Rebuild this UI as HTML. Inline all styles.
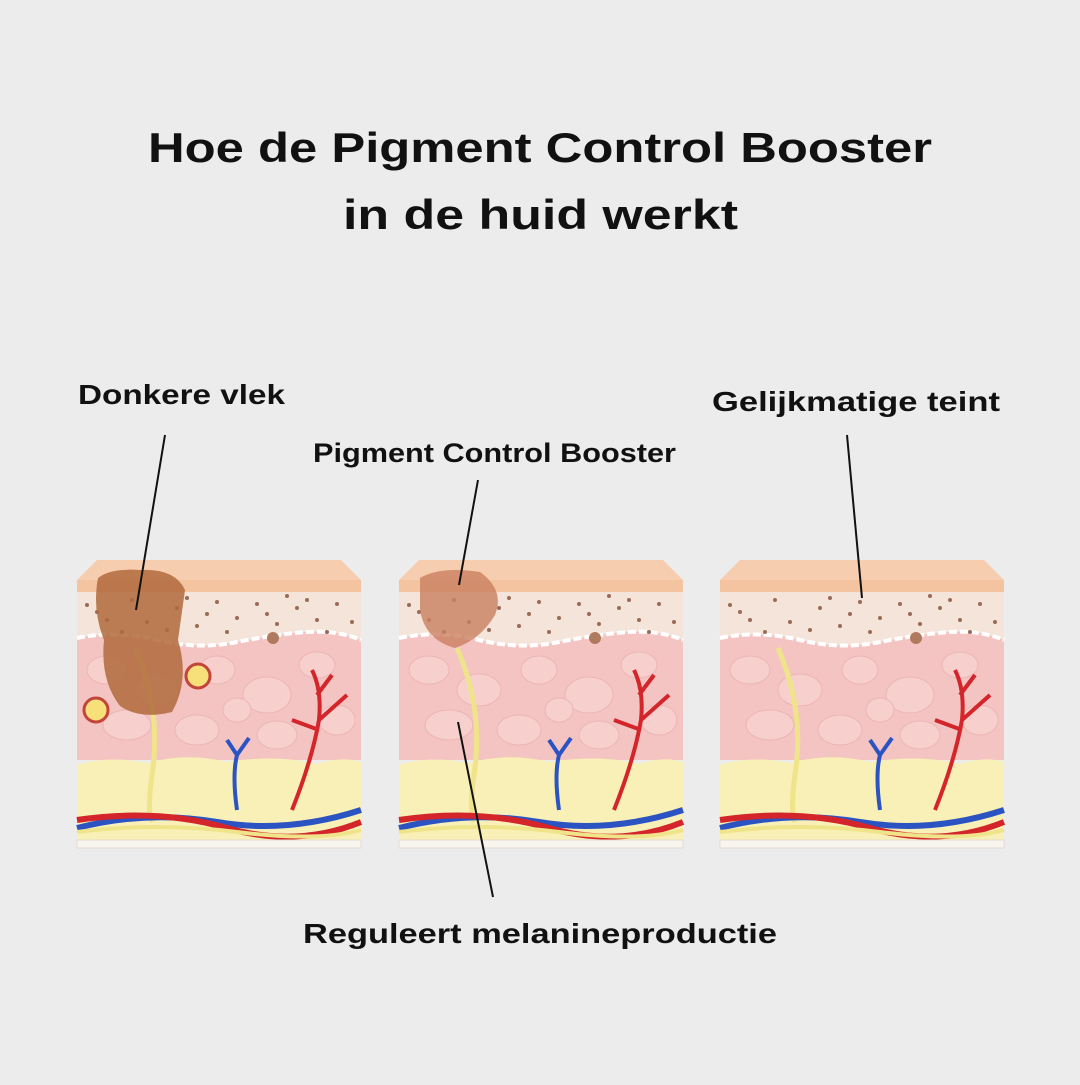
<!DOCTYPE html>
<html><head><meta charset="utf-8"><style>
html,body{margin:0;padding:0;background:#ececec;}
body{width:1080px;height:1080px;overflow:hidden;}
svg text{font-family:"Liberation Sans",sans-serif;font-weight:bold;fill:#111;}
</style></head><body>
<svg width="1080" height="1080" viewBox="0 0 1080 1080" xmlns="http://www.w3.org/2000/svg">
<rect width="1080" height="1080" fill="#ececec"/>
<defs>
<g id="blk">
  <polygon points="20,0 264,0 284,20 0,20" fill="#f7cdb0"/>
  <rect x="0" y="20" width="284" height="12" fill="#f4c3a0"/>
  <rect x="0" y="32" width="284" height="60" fill="#f5e4da"/>
  <path d="M0,78 Q40,70 80,80 T160,82 T230,72 T284,80 L284,200 L0,200 Z" fill="#f4c4c2"/>
  <path d="M0,78 Q40,70 80,80 T160,82 T230,72 T284,80" fill="none" stroke="#fff" stroke-width="4" stroke-dasharray="8 3"/>
  <g fill="#f7d0ce" stroke="#ebb5b4" stroke-width="1">
    <ellipse cx="30" cy="110" rx="20" ry="14"/><ellipse cx="80" cy="130" rx="22" ry="16"/>
    <ellipse cx="140" cy="110" rx="18" ry="14"/><ellipse cx="190" cy="135" rx="24" ry="18"/>
    <ellipse cx="240" cy="105" rx="18" ry="13"/><ellipse cx="50" cy="165" rx="24" ry="15"/>
    <ellipse cx="120" cy="170" rx="22" ry="15"/><ellipse cx="200" cy="175" rx="20" ry="14"/>
    <ellipse cx="260" cy="160" rx="18" ry="15"/><ellipse cx="160" cy="150" rx="14" ry="12"/>
  </g>
  <path d="M0,205 Q30,195 70,203 Q110,192 150,202 Q200,194 240,204 Q265,196 284,202 L284,280 L0,280 Z" fill="#f8f0b6"/>
  <g fill="#9a6b55">
    <circle cx="10" cy="45" r="2"/><circle cx="30" cy="60" r="2"/><circle cx="55" cy="40" r="2"/><circle cx="70" cy="62" r="2"/>
    <circle cx="100" cy="48" r="2"/><circle cx="120" cy="66" r="2"/><circle cx="140" cy="42" r="2"/><circle cx="160" cy="58" r="2"/>
    <circle cx="180" cy="44" r="2"/><circle cx="200" cy="64" r="2"/><circle cx="220" cy="48" r="2"/><circle cx="240" cy="60" r="2"/>
    <circle cx="260" cy="44" r="2"/><circle cx="275" cy="62" r="2"/><circle cx="90" cy="70" r="2"/><circle cx="150" cy="72" r="2"/>
    <circle cx="210" cy="36" r="2"/><circle cx="45" cy="72" r="2"/><circle cx="250" cy="72" r="2"/><circle cx="130" cy="54" r="2"/>
    <circle cx="20" cy="52" r="2"/><circle cx="110" cy="38" r="2"/><circle cx="190" cy="54" r="2"/><circle cx="230" cy="40" r="2"/>
  </g>
  <circle cx="196" cy="78" r="6" fill="#b07a5f"/>
  <path d="M58,88 Q85,150 75,215 Q70,250 75,262" fill="none" stroke="#efe48a" stroke-width="5"/>
  <path d="M160,250 Q155,215 160,195 M160,195 L150,180 M160,195 L172,178" fill="none" stroke="#2b53c2" stroke-width="4"/>
  <path d="M215,250 Q235,200 242,160 Q245,130 235,110 M242,160 L270,135 M240,135 L255,115 M242,170 L215,160" fill="none" stroke="#d3252a" stroke-width="4"/>
  <path d="M0,268 Q70,250 140,262 T284,250" fill="none" stroke="#2b53c2" stroke-width="6"/>
  <path d="M0,260 Q80,248 150,268 T284,262" fill="none" stroke="#d3252a" stroke-width="6"/>
  <path d="M0,272 Q80,262 160,272 T284,270" fill="none" stroke="#efe48a" stroke-width="4"/>
  <rect x="0" y="280" width="284" height="8" fill="#f8f4ee" stroke="#e6dcd3" stroke-width="1"/>
</g>
</defs>

<text x="148" y="162" font-size="42" textLength="784" lengthAdjust="spacingAndGlyphs">Hoe de Pigment Control Booster</text>
<text x="343" y="229" font-size="42" textLength="395" lengthAdjust="spacingAndGlyphs">in de huid werkt</text>

<g transform="translate(77,560)"><use href="#blk"/></g>
<g transform="translate(399,560)"><use href="#blk"/></g>
<g transform="translate(720,560)"><use href="#blk"/></g>

<path d="M98,578 Q110,568 140,570 Q175,568 185,590 L178,640 Q190,680 172,712 Q140,720 120,706 Q100,680 104,640 Q92,610 98,578 Z" fill="#b06a3c" opacity="0.85"/>
<circle cx="198" cy="676" r="12" fill="#f7e07a" stroke="#c2443a" stroke-width="3"/>
<circle cx="96" cy="710" r="12" fill="#f7e07a" stroke="#c2443a" stroke-width="3"/>
<path d="M420,578 Q440,566 480,572 Q505,590 495,615 Q480,640 455,648 Q425,640 420,610 Z" fill="#c98060" opacity="0.8"/>

<line x1="165" y1="435" x2="136" y2="610" stroke="#111" stroke-width="2"/>
<line x1="478" y1="480" x2="459" y2="585" stroke="#111" stroke-width="2"/>
<line x1="847" y1="435" x2="862" y2="598" stroke="#111" stroke-width="2"/>
<line x1="458" y1="722" x2="493" y2="897" stroke="#111" stroke-width="2"/>

<text x="78" y="404" font-size="28" textLength="207" lengthAdjust="spacingAndGlyphs">Donkere vlek</text>
<text x="313" y="462" font-size="27" textLength="363" lengthAdjust="spacingAndGlyphs">Pigment Control Booster</text>
<text x="712" y="411" font-size="28" textLength="288" lengthAdjust="spacingAndGlyphs">Gelijkmatige teint</text>
<text x="303" y="943" font-size="28" textLength="474" lengthAdjust="spacingAndGlyphs">Reguleert melanineproductie</text>
</svg>
</body></html>
